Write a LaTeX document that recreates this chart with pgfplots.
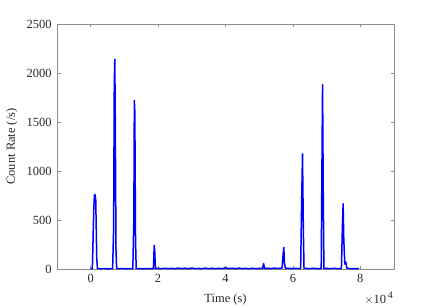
\documentclass[border=0pt]{standalone}
\usepackage{fontspec}
\setmainfont{Liberation Serif}
\usepackage{pgfplots}
\pgfplotsset{compat=1.18}
\begin{document}
\begin{tikzpicture}[x=1bp,y=1bp]
\useasboundingbox (0,0) rectangle (436,307);
\begin{axis}[
  at={(57bp,38bp)}, anchor=south west,
  width=337bp, height=245bp, scale only axis,
  xmin=-10000, xmax=90000, ymin=0, ymax=2500,
  xtick={0,20000,40000,60000,80000},
  xticklabels={0,2,4,6,8},
  scaled x ticks=false,
  ytick={0,500,1000,1500,2000,2500},
  yticklabels={0,500,1000,1500,2000,2500},
  axis line style={draw=black!45, line width=0.5bp},
  tick style={draw=black!45, line width=0.5bp},
  major tick length=3.5bp,
  tick align=inside,
  xtick pos=both, ytick pos=both,
  /pgf/number format/assume math mode=true,
  tick label style={font=\fontsize{12.5}{14}\selectfont, text=black!85},
  xticklabel style={yshift=-2bp},
  yticklabel style={xshift=-2bp},
  xlabel={Time (s)},
  ylabel={Count Rate (/s)},
  label style={font=\fontsize{12.5}{14}\selectfont, text=black!85},
  xlabel style={at={(rel axis cs:0.5,0)}, anchor=center, yshift=-30bp},
  ylabel style={at={(rel axis cs:0,0.5)}, anchor=center, xshift=0bp, yshift=45bp},
  clip=false,
]
\addplot[blue, line width=1.5bp, line join=round] coordinates {
(0,0) (500,5) (900,600) (1100,750) (1300,760) (1500,700) (1800,100) (2000,5)
(2500,3) (3000,2) (4000,4) (5000,2) (6000,3) (6500,3)
(6800,400) (7000,1900) (7150,2140) (7300,1500) (7500,200) (7700,4)
(8500,3) (9500,5) (10500,2) (11500,4) (12500,3)
(12800,500) (12950,1720) (13100,1600) (13300,300) (13500,3)
(14500,4) (15500,2) (16500,5) (17500,3) (18600,3)
(18850,240) (19000,180) (19200,5)
(20000,6) (21000,3) (22000,8) (23000,4) (24000,7) (25000,3) (26000,9) (27000,4)
(28000,8) (29000,3) (30000,10) (31000,4) (32000,6) (33000,3) (34000,9) (35000,4)
(36000,8) (37000,3) (38000,7) (39000,4) (40000,12) (41000,4) (42000,8) (43000,3)
(44000,9) (45000,4) (46000,7) (47000,3) (48000,8) (49000,4) (50000,6) (51000,5)
(51300,55) (51600,5)
(52500,8) (53500,4) (54500,9) (55500,5) (56500,8) (56800,12)
(57100,150) (57300,220) (57500,60) (57800,5)
(58500,8) (59500,4) (60500,7) (61500,5) (62300,5)
(62600,700) (62850,1175) (63100,400) (63300,5)
(64000,6) (65000,4) (66000,8) (67000,5) (68400,5)
(68650,1200) (68800,1880) (69000,800) (69200,5)
(70000,6) (71000,4) (72000,7) (73000,5) (74400,5)
(74700,450) (74900,665) (75100,300) (75400,50) (75700,70) (76000,10)
(76500,5) (77500,4) (78500,3) (79600,3)
};
\node[anchor=base east, font=\fontsize{12.5}{14}\selectfont, text=black!85, inner sep=0pt]
  at (rel axis cs:1,0) [yshift=-34bp, xshift=-1bp] {$\times$10\raisebox{5bp}{\fontsize{10}{11}\selectfont\,4}};
\end{axis}
\end{tikzpicture}
\end{document}
